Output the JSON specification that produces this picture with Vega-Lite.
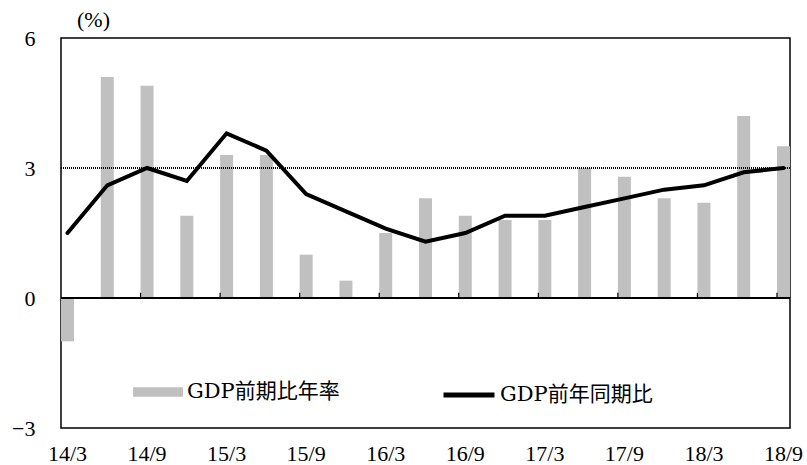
{
  "$schema": "https://vega.github.io/schema/vega-lite/v6.json",
  "width": 729,
  "height": 390,
  "autosize": "none",
  "padding": {"left": 61, "top": 38, "right": 17, "bottom": 37},
  "background": "white",
  "config": {
    "view": {"stroke": "#000", "strokeWidth": 1.5},
    "font": "Liberation Serif",
    "axis": {"labelFont": "Liberation Serif", "labelColor": "#000", "titleColor": "#000"},
    "legend": {"labelFont": "DejaVu Serif, Noto Sans CJK JP", "labelColor": "#000"}
  },
  "data": {
    "values": [
      {"q": "14/3", "bar": -1.0, "line": 1.5},
      {"q": "14/6", "bar": 5.1, "line": 2.6},
      {"q": "14/9", "bar": 4.9, "line": 3.0},
      {"q": "14/12", "bar": 1.9, "line": 2.7},
      {"q": "15/3", "bar": 3.3, "line": 3.8},
      {"q": "15/6", "bar": 3.3, "line": 3.4},
      {"q": "15/9", "bar": 1.0, "line": 2.4},
      {"q": "15/12", "bar": 0.4, "line": 2.0},
      {"q": "16/3", "bar": 1.5, "line": 1.6},
      {"q": "16/6", "bar": 2.3, "line": 1.3},
      {"q": "16/9", "bar": 1.9, "line": 1.5},
      {"q": "16/12", "bar": 1.8, "line": 1.9},
      {"q": "17/3", "bar": 1.8, "line": 1.9},
      {"q": "17/6", "bar": 3.0, "line": 2.1},
      {"q": "17/9", "bar": 2.8, "line": 2.3},
      {"q": "17/12", "bar": 2.3, "line": 2.5},
      {"q": "18/3", "bar": 2.2, "line": 2.6},
      {"q": "18/6", "bar": 4.2, "line": 2.9},
      {"q": "18/9", "bar": 3.5, "line": 3.0}
    ]
  },
  "encoding": {
    "x": {
      "field": "q",
      "type": "nominal",
      "sort": null,
      "scale": {"type": "band", "paddingInner": 0.673, "paddingOuter": 0},
      "axis": {
        "title": null,
        "values": ["14/3", "14/9", "15/3", "15/9", "16/3", "16/9", "17/3", "17/9", "18/3", "18/9"],
        "labelAngle": 0,
        "labelFontSize": 22,
        "labelPadding": 15,
        "ticks": false,
        "domain": false,
        "grid": false
      }
    }
  },
  "layer": [
    {
      "mark": {"type": "bar", "color": "#c0c0c0"},
      "encoding": {
        "y": {
          "field": "bar",
          "type": "quantitative",
          "scale": {"domain": [-3, 6], "nice": false, "zero": false},
          "axis": {
            "title": "(%)",
            "titleAngle": 0,
            "titleX": 32,
            "titleY": -19,
            "titleAlign": "center",
            "titleBaseline": "middle",
            "titleFontSize": 22,
            "titleFontWeight": "normal",
            "titleFont": "Liberation Serif",
            "values": [-3, 0, 3, 6],
            "labelFontSize": 22,
            "labelPadding": 26,
            "ticks": false,
            "domain": false,
            "grid": false,
            "labelExpr": "replace(datum.label, '-', '−')"
          }
        },
        "fill": {
          "datum": "GDP前期比年率",
          "scale": {"range": ["#c0c0c0"]},
          "legend": {
            "title": null,
            "orient": "none",
            "legendX": 72,
            "legendY": 329,
            "padding": 0,
            "symbolType": "M-1,-0.19H1V0.19H-1Z",
            "symbolSize": 2500,
            "symbolStrokeWidth": 0,
            "labelFontSize": 21,
            "labelOffset": 4
          }
        }
      }
    },
    {
      "mark": {"type": "rule", "color": "#000", "strokeWidth": 0.8, "strokeDash": [1, 1]},
      "encoding": {"y": {"datum": 3}, "x": null}
    },
    {
      "mark": {"type": "rule", "color": "#000", "strokeWidth": 1.5},
      "encoding": {"y": {"datum": 0}, "x": null}
    },
    {
      "transform": [
        {"filter": {"field": "q", "oneOf": ["14/9", "15/3", "15/9", "16/3", "16/9", "17/3", "17/9", "18/3", "18/9"]}}
      ],
      "mark": {"type": "rule", "color": "#000", "strokeWidth": 1.2},
      "encoding": {
        "x": {"field": "q", "type": "nominal", "sort": null, "bandPosition": 0},
        "y": {"datum": 0},
        "y2": {"datum": 0.12}
      }
    },
    {
      "mark": {"type": "line", "strokeWidth": 4, "strokeJoin": "miter", "strokeCap": "round"},
      "encoding": {
        "y": {"field": "line", "type": "quantitative"},
        "stroke": {
          "datum": "GDP前年同期比",
          "scale": {"range": ["#000"]},
          "legend": {
            "title": null,
            "orient": "none",
            "legendX": 380,
            "legendY": 329,
            "padding": 0,
            "symbolType": "stroke",
            "symbolSize": 2600,
            "symbolStrokeWidth": 5,
            "labelFontSize": 21,
            "labelOffset": 3
          }
        }
      }
    }
  ],
  "resolve": {"scale": {"fill": "independent", "stroke": "independent"}}
}
